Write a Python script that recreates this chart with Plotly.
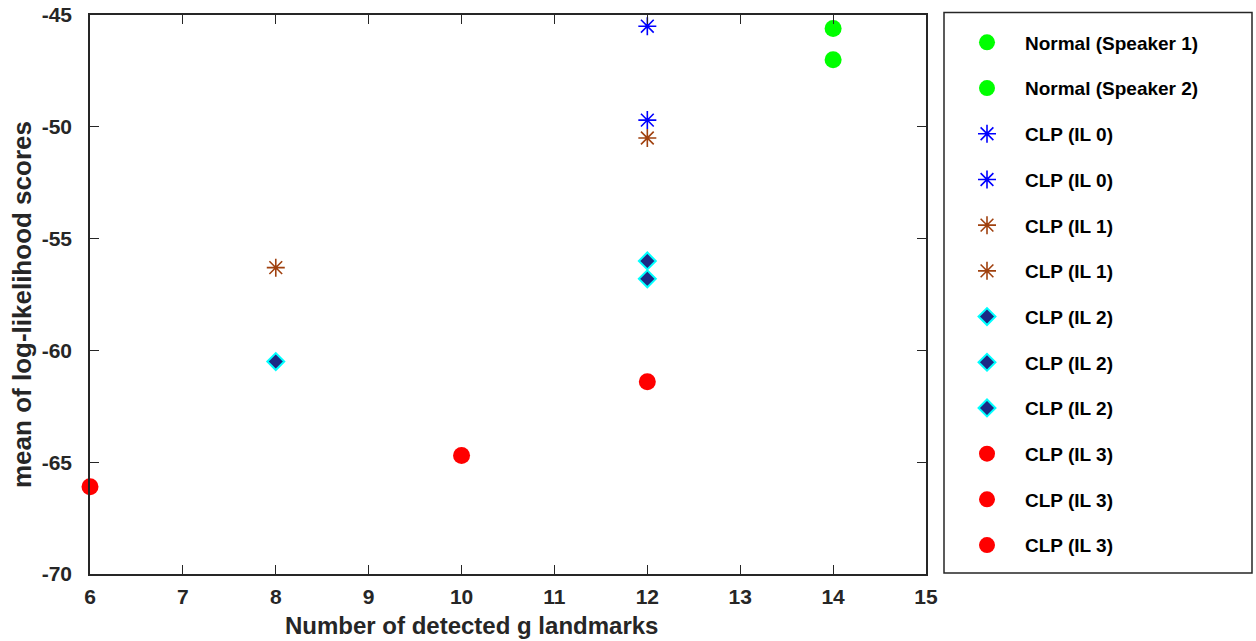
import plotly.graph_objects as go

# Legend labels, one point per entry
labels = [
    "Normal (Speaker 1)", "Normal (Speaker 2)",
    "CLP (IL 0)", "CLP (IL 0)",
    "CLP (IL 1)", "CLP (IL 1)",
    "CLP (IL 2)", "CLP (IL 2)", "CLP (IL 2)",
    "CLP (IL 3)", "CLP (IL 3)", "CLP (IL 3)",
]
landmarks = [14, 14, 12, 12, 12, 8, 12, 12, 8, 12, 10, 6]
loglik = [-45.6, -47.0, -45.5, -49.7, -50.5, -56.3, -56.0, -56.8, -60.5, -61.4, -64.7, -66.1]
groups = ["normal", "normal", "il0", "il0", "il1", "il1", "il2", "il2", "il2", "il3", "il3", "il3"]

x_ticks = list(range(6, 16))
y_ticks = [-70, -65, -60, -55, -50, -45]
y_tick_text = ["-70", "-65", "-60", "-55", "-50", "-45"]

AXIS_COLOR = "#262626"
FONT = "Liberation Sans, Arial, sans-serif"

styles = {
    "normal": dict(symbol="circle", size=17, color="#00FF00", line=dict(width=0)),
    "il0": dict(symbol="asterisk-open", size=15, color="#0000FF", line=dict(width=1.6, color="#0000FF")),
    "il1": dict(symbol="asterisk-open", size=15, color="#A0410F", line=dict(width=1.6, color="#A0410F")),
    "il2": dict(symbol="diamond", size=13, color="#1B2A85", line=dict(width=2, color="#00FFFF")),
    "il3": dict(symbol="circle", size=17, color="#FF0000", line=dict(width=0)),
}

fig = go.Figure()
for i, (lab, xv, yv, g) in enumerate(zip(labels, landmarks, loglik, groups)):
    fig.add_trace(go.Scatter(
        x=[xv], y=[yv], mode="markers", name=lab, cliponaxis=False,
        legendgroup=f"g{i}", marker=styles[g],
    ))

# plot area spans x 90..926 px and y 15..574 px
PW, PH = 836, 559

fig.update_layout(
    width=1256, height=641,
    margin=dict(l=90, r=330, t=15, b=67, autoexpand=False),
    paper_bgcolor="white", plot_bgcolor="white",
    font=dict(family=FONT, color=AXIS_COLOR),
    showlegend=True,
    legend=dict(
        x=(949 - 90) / PW, y=1.0 - 8.5 / PH, xanchor="left", yanchor="top",
        bgcolor="rgba(0,0,0,0)", borderwidth=0,
        font=dict(family=FONT, size=19, color="black", weight="bold"),
        tracegroupgap=18, itemwidth=66,
    ),
    xaxis=dict(
        range=[6, 15], tickvals=x_ticks, ticks="inside", ticklen=9,
        tickcolor=AXIS_COLOR, showline=True, linecolor=AXIS_COLOR, linewidth=1.5,
        mirror="ticks", showgrid=False, zeroline=False, automargin=False,
        tickfont=dict(family=FONT, size=21, color=AXIS_COLOR, weight="bold"),
        ticklabelstandoff=3,
    ),
    yaxis=dict(
        range=[-70, -45], tickvals=y_ticks, ticktext=y_tick_text,
        ticks="inside", ticklen=9,
        tickcolor=AXIS_COLOR, showline=True, linecolor=AXIS_COLOR, linewidth=1.5,
        mirror="ticks", showgrid=False, zeroline=False, automargin=False,
        tickfont=dict(family=FONT, size=21, color=AXIS_COLOR, weight="bold"),
        ticklabelstandoff=12,
    ),
    shapes=[dict(
        type="rect", xref="paper", yref="paper",
        x0=(944 - 90) / PW, x1=(1252 - 90) / PW,
        y0=(574 - 573) / PH, y1=(574 - 12.5) / PH,
        line=dict(color=AXIS_COLOR, width=1.5), fillcolor="rgba(0,0,0,0)",
    )],
    annotations=[
        dict(text="Number of detected g landmarks", xref="paper", yref="paper",
             x=(471 - 90) / PW, y=(574 - 625) / PH, xanchor="center", yanchor="middle",
             showarrow=False, font=dict(family=FONT, size=24, color=AXIS_COLOR, weight="bold")),
        dict(text="mean of log-likelihood scores", xref="paper", yref="paper",
             x=(22 - 90) / PW, y=(574 - 305) / PH, xanchor="center", yanchor="middle",
             textangle=-90, showarrow=False,
             font=dict(family=FONT, size=26, color=AXIS_COLOR, weight="bold")),
    ],
)

fig.write_html("out.html")
